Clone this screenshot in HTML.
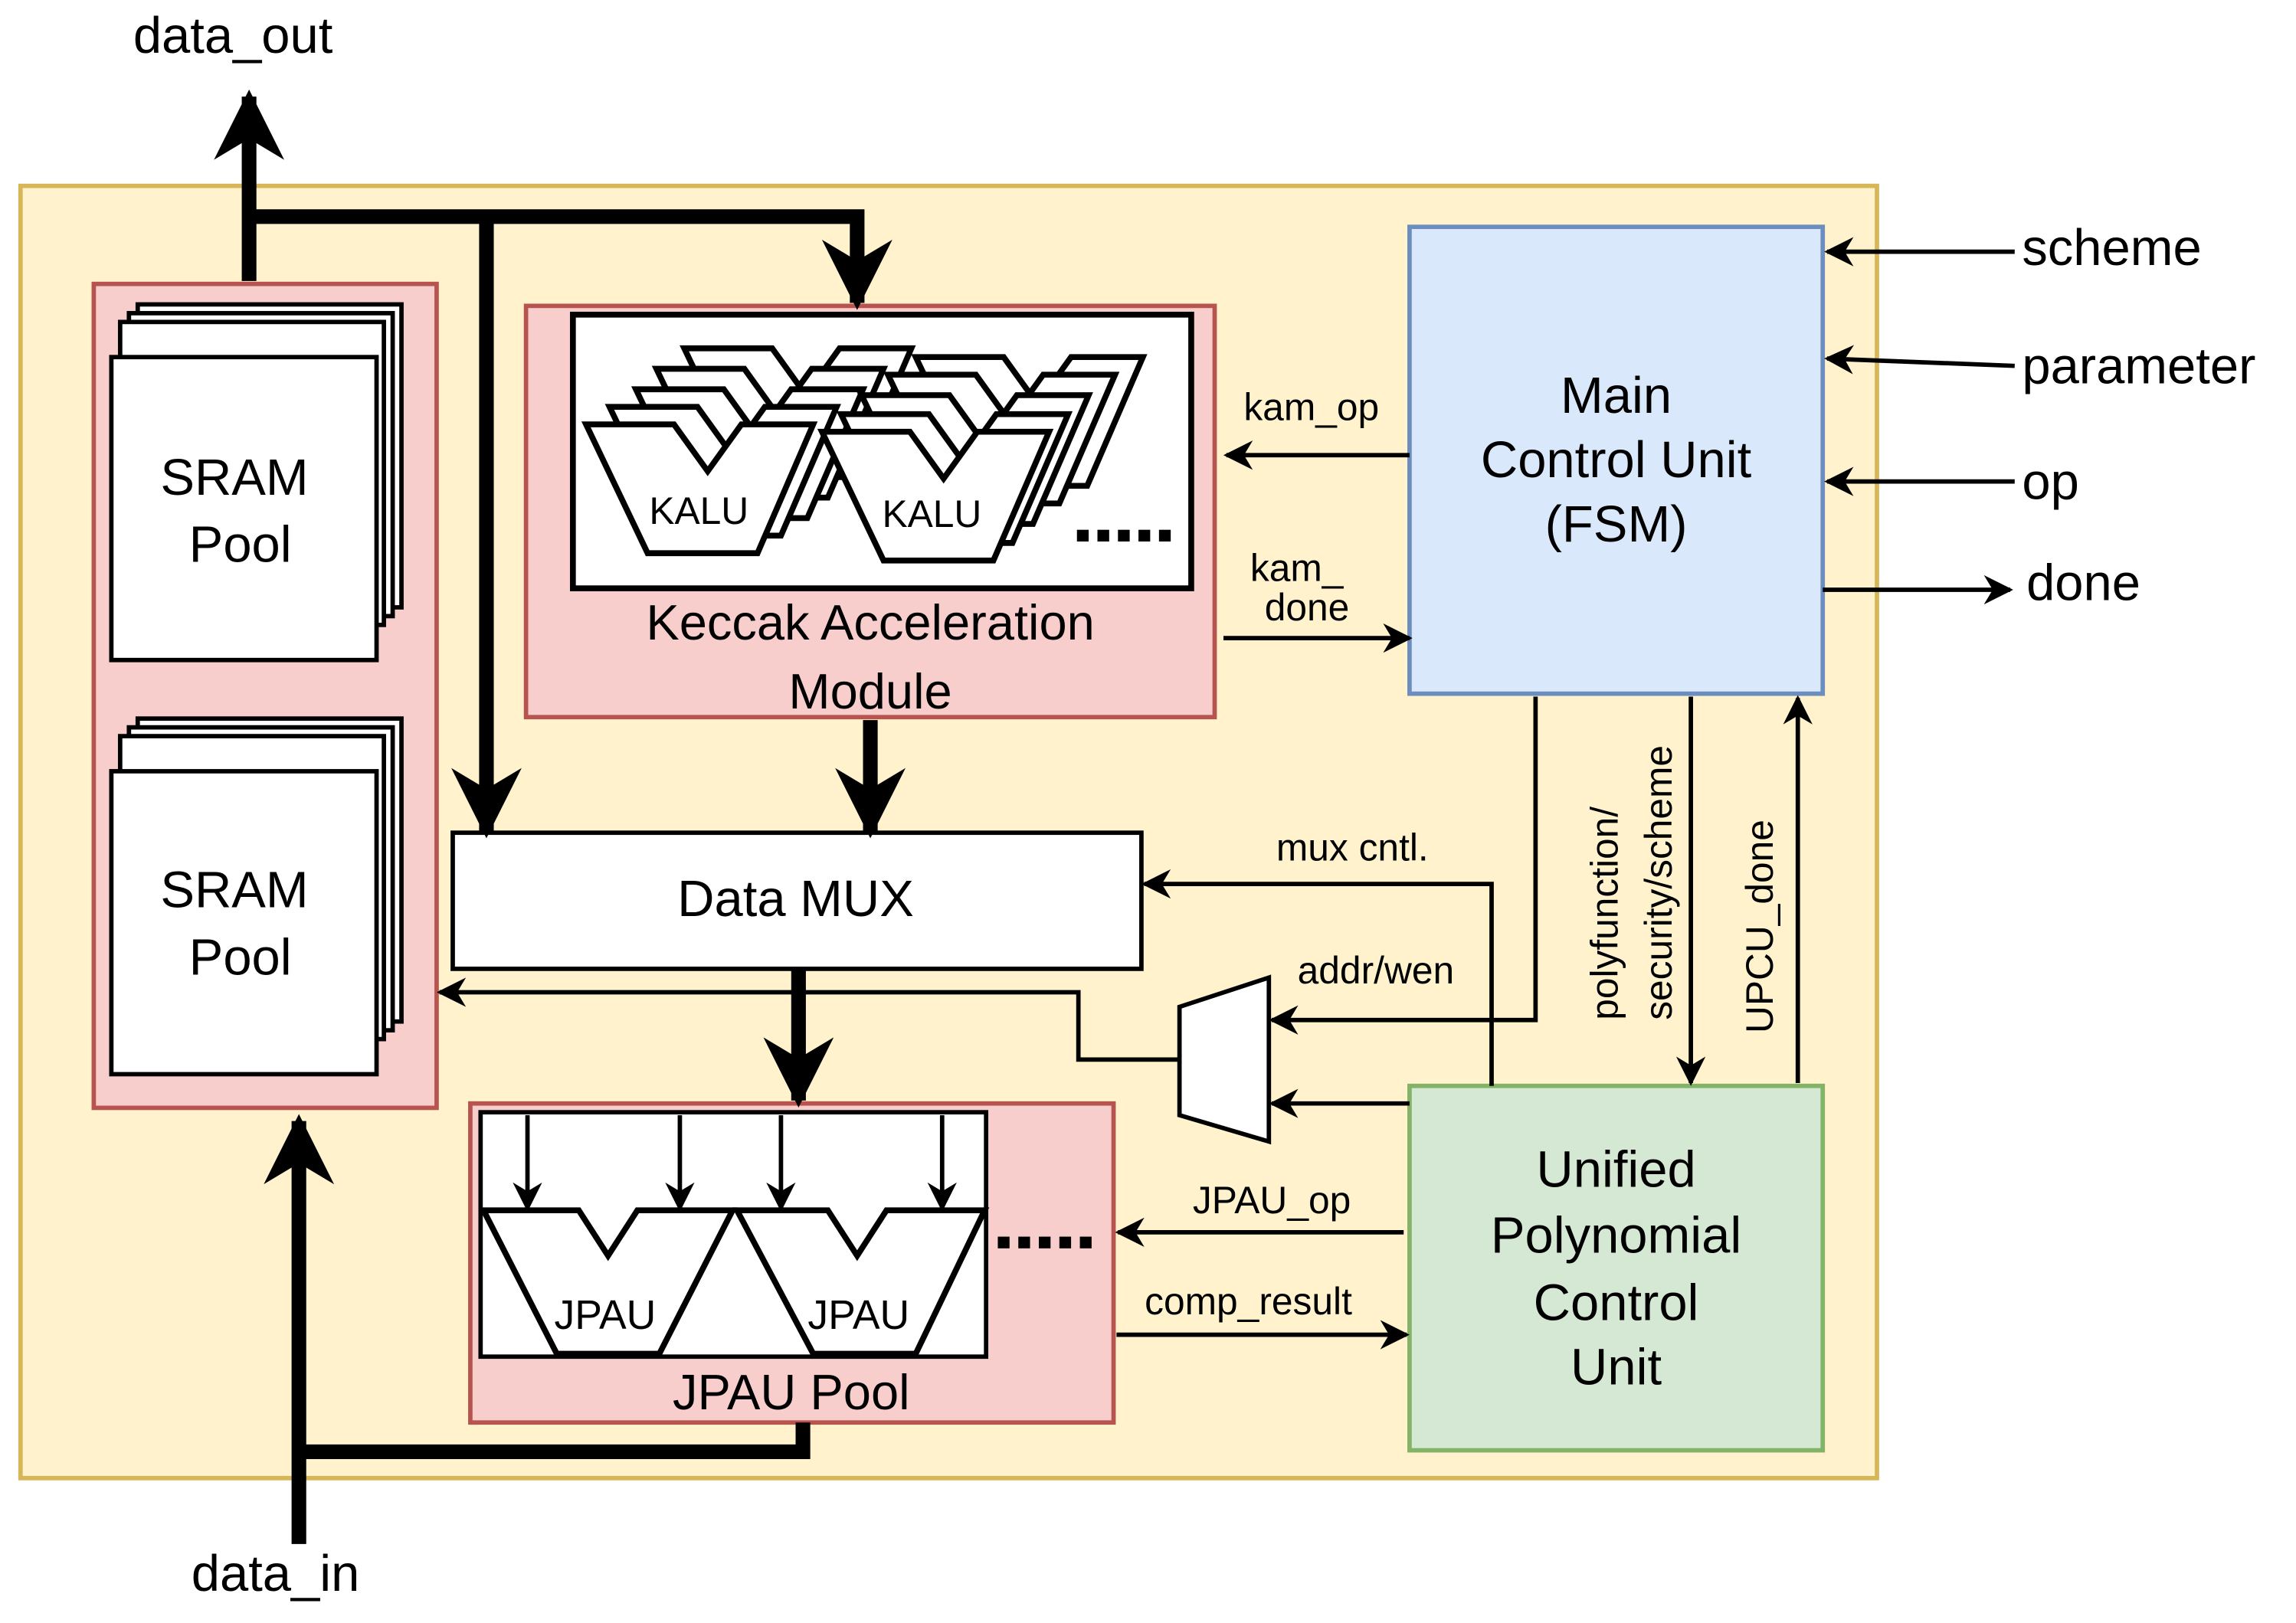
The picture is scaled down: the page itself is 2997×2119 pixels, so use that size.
<!DOCTYPE html>
<html><head><meta charset="utf-8"><style>html,body{margin:0;padding:0;background:#fff}svg{display:block}text{font-family:"Liberation Sans",Arial,sans-serif;fill:#000}</style></head>
<body>
<svg width="2997" height="2119" viewBox="0 0 1567 1109" preserveAspectRatio="none" xmlns="http://www.w3.org/2000/svg">
<defs>
<marker id="as" viewBox="0 0 10 10" markerWidth="22" markerHeight="20" refX="9" refY="5" orient="auto" markerUnits="userSpaceOnUse"><path d="M0,0 L10,5 L0,10 L3,5 z" fill="#000"/></marker>
<marker id="ab" viewBox="0 0 10 10" markerWidth="50" markerHeight="48" refX="9" refY="5" orient="auto" markerUnits="userSpaceOnUse"><path d="M0,0 L10,5 L0,10 L3,5 z" fill="#000"/></marker>
<path id="alu" d="M0,0 L60,0 L83,32 L106,0 L155,0 L117,88 L42,88 Z" fill="#fff" stroke="#000" stroke-width="4"/>
</defs>
<rect x="14" y="127" width="1267" height="883" fill="#fff2cc" stroke="#d6b656" stroke-width="3"/>
<!-- SRAM -->
<rect x="64" y="194" width="234" height="563" fill="#f8cecc" stroke="#b85450" stroke-width="3"/>
<g fill="#fff" stroke="#000" stroke-width="3">
<rect x="94" y="208" width="180" height="207"/><rect x="88" y="214" width="180" height="207"/><rect x="82" y="220" width="180" height="207"/><rect x="76" y="244" width="181" height="207"/>
<rect x="94" y="491" width="180" height="207"/><rect x="88" y="497" width="180" height="207"/><rect x="82" y="503" width="180" height="207"/><rect x="76" y="527" width="181" height="207"/>
</g>
<text x="160" y="338" font-size="35" text-anchor="middle">SRAM</text><text x="164" y="384" font-size="35" text-anchor="middle">Pool</text>
<text x="160" y="620" font-size="35" text-anchor="middle">SRAM</text><text x="164" y="666" font-size="35" text-anchor="middle">Pool</text>
<!-- Keccak -->
<rect x="359" y="209" width="470" height="281" fill="#f8cecc" stroke="#b85450" stroke-width="3"/>
<rect x="391" y="215" width="422" height="187" fill="#fff" stroke="#000" stroke-width="4"/>
<use href="#alu" x="467" y="238"/><use href="#alu" x="448" y="252"/><use href="#alu" x="434" y="266"/><use href="#alu" x="416" y="278"/><use href="#alu" x="400" y="290"/>
<use href="#alu" x="625" y="244"/><use href="#alu" x="606" y="256"/><use href="#alu" x="588" y="270"/><use href="#alu" x="574" y="283"/><use href="#alu" x="561" y="295"/>
<text x="477" y="358" font-size="26" text-anchor="middle">KALU</text>
<text x="636" y="360" font-size="26" text-anchor="middle">KALU</text>
<g fill="#000"><rect x="735" y="362" width="8" height="8"/><rect x="749" y="362" width="8" height="8"/><rect x="763" y="362" width="8" height="8"/><rect x="777" y="362" width="8" height="8"/><rect x="791" y="362" width="8" height="8"/></g>
<text x="594" y="437" font-size="34" text-anchor="middle">Keccak Acceleration</text>
<text x="594" y="484" font-size="34" text-anchor="middle">Module</text>
<!-- MCU -->
<rect x="962" y="155" width="282" height="319" fill="#dae8fc" stroke="#6c8ebf" stroke-width="3"/>
<text x="1103" y="282" font-size="35" text-anchor="middle">Main</text>
<text x="1103" y="326" font-size="35" text-anchor="middle">Control Unit</text>
<text x="1103" y="370" font-size="35" text-anchor="middle">(FSM)</text>
<!-- UPCU -->
<rect x="962" y="742" width="282" height="249" fill="#d5e8d4" stroke="#82b366" stroke-width="3"/>
<text x="1103" y="811" font-size="35" text-anchor="middle">Unified</text>
<text x="1103" y="856" font-size="35" text-anchor="middle">Polynomial</text>
<text x="1103" y="902" font-size="35" text-anchor="middle">Control</text>
<text x="1103" y="946" font-size="35" text-anchor="middle">Unit</text>
<!-- Data MUX -->
<rect x="309" y="569" width="470" height="93" fill="#fff" stroke="#000" stroke-width="3"/>
<text x="543" y="626" font-size="35" text-anchor="middle">Data MUX</text>
<path d="M805,688 L866,668 L866,780 L805,762 Z" fill="#fff" stroke="#000" stroke-width="3"/>
<!-- JPAU -->
<rect x="321" y="754" width="439" height="218" fill="#f8cecc" stroke="#b85450" stroke-width="3"/>
<rect x="328" y="760" width="345" height="167" fill="#fff" stroke="#000" stroke-width="3"/>
<path d="M330,827 L395,827 L415,858 L435,827 L500,827 L450,925 L380,925 Z" fill="#fff" stroke="#000" stroke-width="4"/>
<path d="M503,827 L565,827 L585,858 L605,827 L672,827 L625,925 L555,925 Z" fill="#fff" stroke="#000" stroke-width="4"/>
<text x="413" y="908" font-size="28" text-anchor="middle">JPAU</text>
<text x="586" y="908" font-size="28" text-anchor="middle">JPAU</text>
<g fill="#000"><rect x="681" y="845" width="8" height="8"/><rect x="695" y="845" width="8" height="8"/><rect x="709" y="845" width="8" height="8"/><rect x="723" y="845" width="8" height="8"/><rect x="737" y="845" width="8" height="8"/></g>
<text x="540" y="963" font-size="34" text-anchor="middle">JPAU Pool</text>
<g stroke="#000" stroke-width="3" fill="none" marker-end="url(#as)">
<line x1="360" y1="762" x2="360" y2="826"/><line x1="464" y1="762" x2="464" y2="826"/><line x1="533" y1="762" x2="533" y2="826"/><line x1="643" y1="762" x2="643" y2="826"/>
</g>
<g stroke="#000" stroke-width="10" fill="none">
<path d="M170,192 L170,66" marker-end="url(#ab)"/>
<path d="M170,148 L585,148 L585,207" marker-end="url(#ab)"/>
<path d="M332,148 L332,568" marker-end="url(#ab)"/>
<path d="M594,492 L594,568" marker-end="url(#ab)"/>
<path d="M545,662 L545,752" marker-end="url(#ab)"/>
<path d="M204,1055 L204,766" marker-end="url(#ab)"/>
<path d="M204,992 L548,992 L548,972"/>
</g>
<g stroke="#000" stroke-width="3" fill="none" marker-end="url(#as)">
<path d="M962,311 L837,311"/>
<path d="M835,436 L962,436"/>
<path d="M1375,172 L1247,172"/>
<path d="M1375,250 L1247,245"/>
<path d="M1375,329 L1247,329"/>
<path d="M1244,403 L1372,403"/>
<path d="M1018,742 L1018,604 L781,604"/>
<path d="M1048,476 L1048,697 L868,697"/>
<path d="M962,754 L868,754"/>
<path d="M1154,476 L1154,740"/>
<path d="M1227,740 L1227,477"/>
<path d="M958,842 L763,842"/>
<path d="M762,912 L960,912"/>
<path d="M805,724 L736,724 L736,678 L300,678"/>
</g>
<text x="159" y="36" font-size="35" text-anchor="middle">data_out</text>
<text x="188" y="1087" font-size="35" text-anchor="middle">data_in</text>
<text x="1380" y="181" font-size="35">scheme</text>
<text x="1380" y="262" font-size="35">parameter</text>
<text x="1380" y="341" font-size="35">op</text>
<text x="1383" y="410" font-size="35">done</text>
<text x="895" y="287" font-size="26" text-anchor="middle">kam_op</text>
<text x="885" y="397" font-size="26" text-anchor="middle">kam_</text>
<text x="892" y="424" font-size="26" text-anchor="middle">done</text>
<text x="923" y="588" font-size="26" text-anchor="middle">mux cntl.</text>
<text x="939" y="672" font-size="26" text-anchor="middle">addr/wen</text>
<text x="868" y="829" font-size="26" text-anchor="middle">JPAU_op</text>
<text x="852" y="898" font-size="26" text-anchor="middle">comp_result</text>
<text transform="translate(1104,697) rotate(-90)" font-size="26">polyfunction/</text>
<text transform="translate(1141,697) rotate(-90)" font-size="26">security/scheme</text>
<text transform="translate(1210,706) rotate(-90)" font-size="26">UPCU_done</text>
</svg>
</body></html>
